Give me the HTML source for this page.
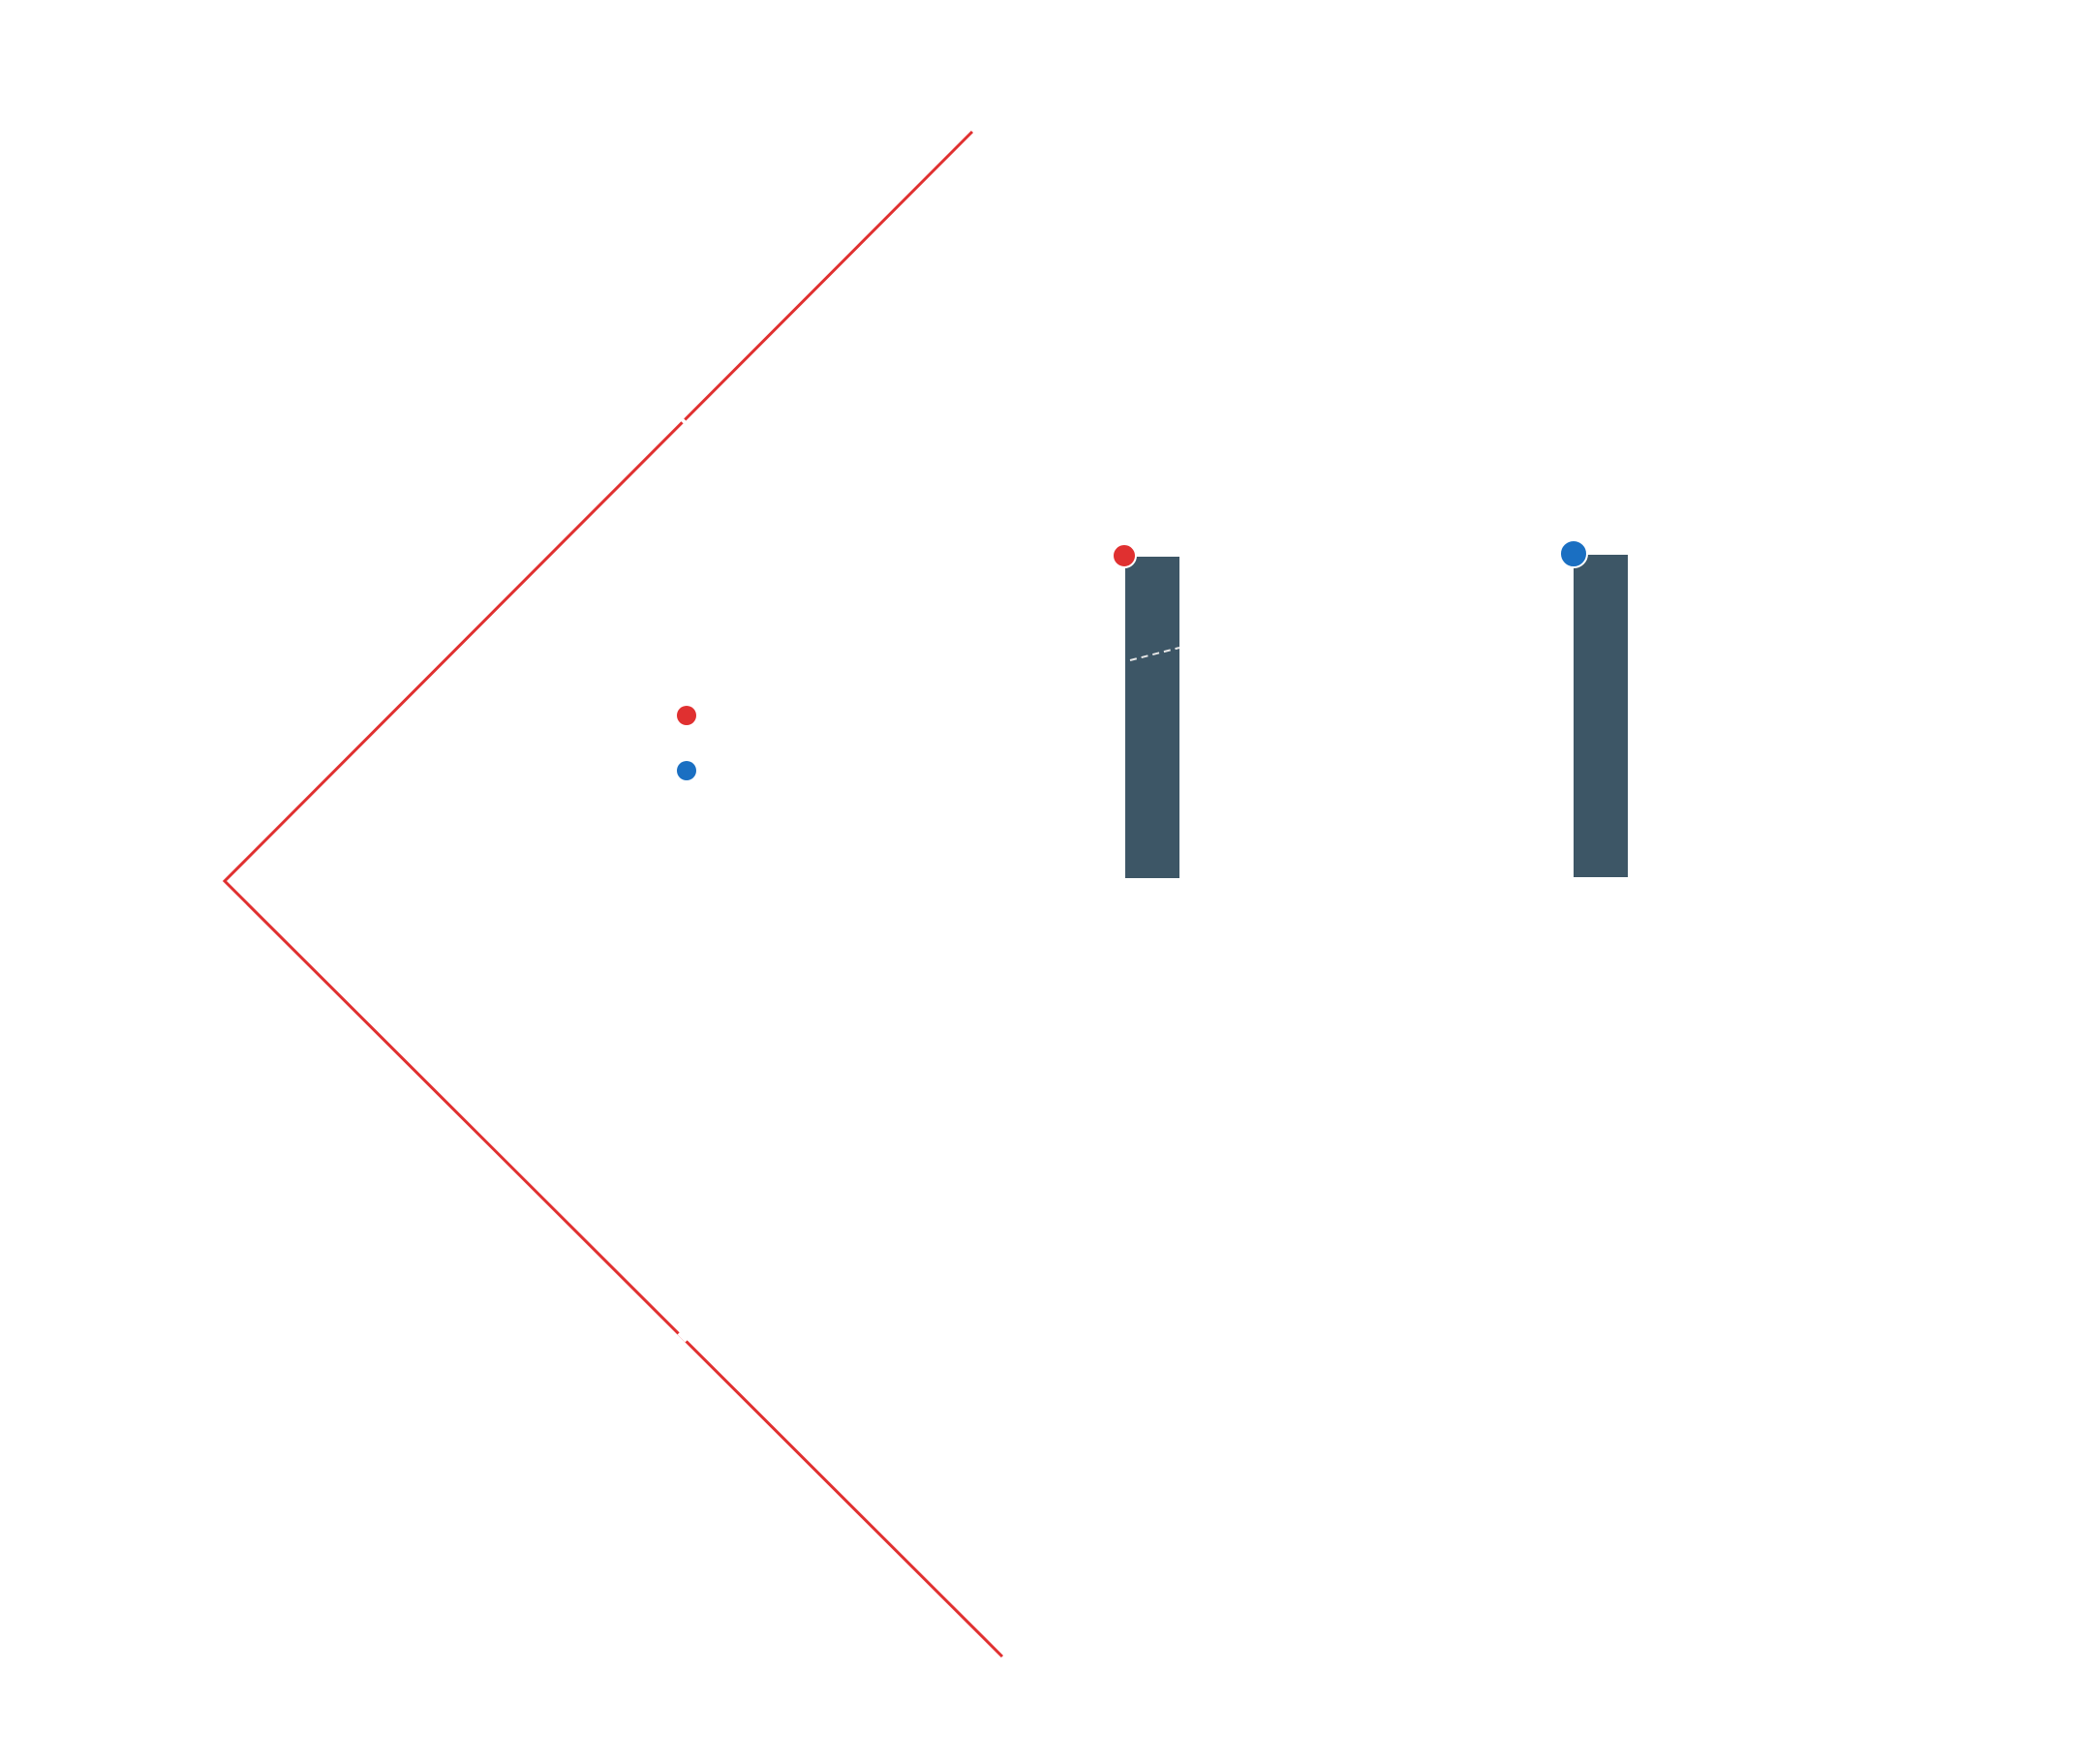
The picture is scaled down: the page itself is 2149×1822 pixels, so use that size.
<!DOCTYPE html>
<html><head><style>html,body{margin:0;padding:0;background:#fff;width:2149px;height:1822px;overflow:hidden}</style></head>
<body>
<svg width="2149" height="1822" viewBox="0 0 2149 1822" xmlns="http://www.w3.org/2000/svg">
<rect width="2149" height="1822" fill="#fff"/>
<g transform="translate(-2,-3)">
<polyline points="1006,139 234,913 1037,1714" fill="none" stroke="#e03030" stroke-width="3"/>
<line x1="705" y1="435" x2="713" y2="443" stroke="#fff" stroke-width="4"/>
<line x1="703" y1="1380" x2="711" y2="1388" stroke="#fff" stroke-width="4"/>
<circle cx="711" cy="742" r="10" fill="#e03030"/>
<circle cx="711" cy="799" r="10" fill="#1a6fc2"/>
<rect x="1164" y="578" width="56" height="332" fill="#3d5666"/>
<rect x="1627" y="576" width="56" height="333" fill="#3d5666"/>
<line x1="1169" y1="685" x2="1220" y2="672" stroke="#e8e8e8" stroke-width="2" stroke-dasharray="7,5"/>
<circle cx="1163" cy="577" r="12" fill="#e03030" stroke="#fff" stroke-width="2"/>
<circle cx="1627" cy="575" r="14" fill="#1a6fc2" stroke="#fff" stroke-width="2"/>
</g>
</svg>
</body></html>
